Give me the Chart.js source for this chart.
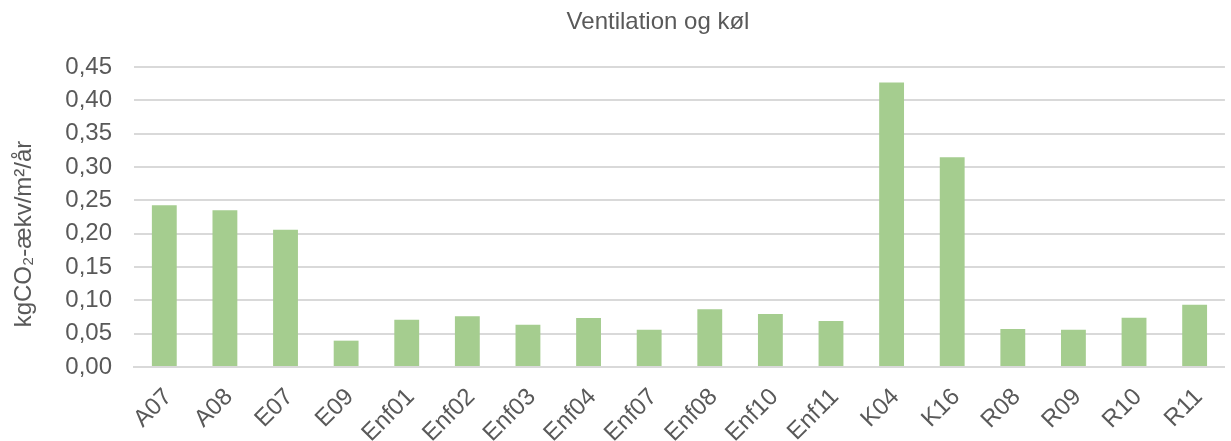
<!DOCTYPE html>
<html>
<head>
<meta charset="utf-8">
<script src="https://cdn.jsdelivr.net/npm/chart.js@4"></script>
<style>
html,body{margin:0;padding:0;background:#fff;}
#wrap{width:1231px;height:441px;}
</style>
</head>
<body>
<div id="wrap"><canvas id="c" width="1231" height="441"></canvas></div>
<script>
const categories = ["A07","A08","E07","E09","Enf01","Enf02","Enf03","Enf04","Enf07","Enf08","Enf10","Enf11","K04","K16","R08","R09","R10","R11"];
const values = [0.2425,0.235,0.206,0.0395,0.071,0.076,0.0635,0.0735,0.056,0.0865,0.0795,0.069,0.4268,0.3145,0.057,0.056,0.074,0.0935];
const yTicks = [0,0.05,0.10,0.15,0.20,0.25,0.30,0.35,0.40,0.45];
const chartTitle = "Ventilation og køl";
const yTitle = "kgCO₂-ækv/m²/år";

const FONT = "'Liberation Sans', Arial, sans-serif";
const TXT = "#595959";

// Chart title and y-axis title, placed as in the reference
const titlesPlugin = {
  id: 'titles',
  afterDraw(chart) {
    const ctx = chart.ctx;
    const a = chart.chartArea;
    ctx.save();
    ctx.font = "24px " + FONT;
    ctx.fillStyle = TXT;
    ctx.textAlign = 'center';
    ctx.textBaseline = 'middle';
    ctx.fillText(chartTitle, 658, 22);
    ctx.translate(24, (a.top + a.bottom) / 2 + 17);
    ctx.rotate(-Math.PI / 2);
    ctx.fillText(yTitle, 0, 0);
    ctx.restore();
  }
};

new Chart(document.getElementById('c'), {
  type: 'bar',
  data: {
    labels: categories,
    datasets: [{
      data: values,
      backgroundColor: '#A5CD8F',
      borderWidth: 0,
      barPercentage: 0.41,
      categoryPercentage: 1.0
    }]
  },
  plugins: [titlesPlugin],
  options: {
    responsive: false,
    animation: false,
    devicePixelRatio: 1,
    layout: { padding: { left: 0, right: 0, top: 67, bottom: 0 } },
    plugins: {
      legend: { display: false },
      tooltip: { enabled: false },
      title: { display: false }
    },
    scales: {
      x: {
        grid: { display: false, drawTicks: false },
        border: { display: true, color: '#D9D9D9', width: 2 },
        ticks: {
          color: TXT,
          font: { family: FONT, size: 24 },
          maxRotation: 45, minRotation: 45,
          padding: 16,
          labelOffset: 4,
          autoSkip: false
        },
        afterFit: (s) => { s.height = 74; }
      },
      y: {
        min: 0, max: 0.45,
        afterBuildTicks: (s) => { s.ticks = yTicks.map(v => ({ value: v })); },
        grid: { color: '#D9D9D9', lineWidth: 2, drawTicks: false },
        border: { display: false },
        ticks: {
          color: TXT,
          font: { family: FONT, size: 24 },
          padding: 22,
          callback: (v) => Number(v).toFixed(2).replace('.', ',')
        },
        title: { display: false },
        afterFit: (s) => { s.width = 134; }
      }
    }
  }
});
</script>
</body>
</html>
